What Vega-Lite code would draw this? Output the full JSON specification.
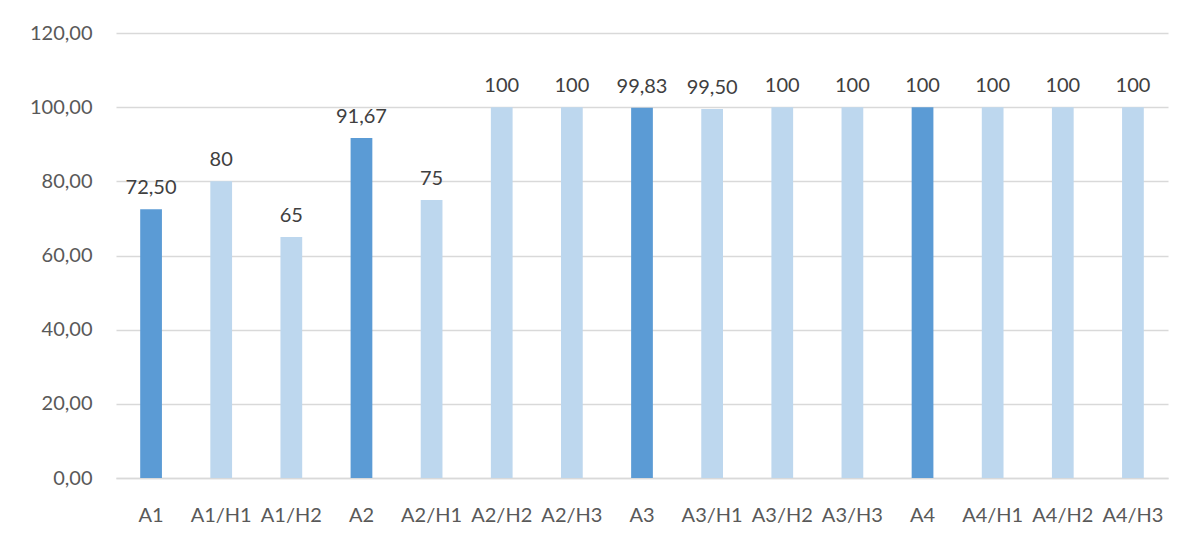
{
  "$schema": "https://vega.github.io/schema/vega-lite/v6.json",
  "width": 1052,
  "height": 445,
  "autosize": {"type": "none"},
  "padding": {"left": 116, "top": 33, "right": 21, "bottom": 65},
  "background": "white",
  "data": {"values": [
    {"cat": "A1", "value": 72.5, "label": "72,50", "kind": "main"},
    {"cat": "A1/H1", "value": 80, "label": "80", "kind": "sub"},
    {"cat": "A1/H2", "value": 65, "label": "65", "kind": "sub"},
    {"cat": "A2", "value": 91.67, "label": "91,67", "kind": "main"},
    {"cat": "A2/H1", "value": 75, "label": "75", "kind": "sub"},
    {"cat": "A2/H2", "value": 100, "label": "100", "kind": "sub"},
    {"cat": "A2/H3", "value": 100, "label": "100", "kind": "sub"},
    {"cat": "A3", "value": 99.83, "label": "99,83", "kind": "main"},
    {"cat": "A3/H1", "value": 99.5, "label": "99,50", "kind": "sub"},
    {"cat": "A3/H2", "value": 100, "label": "100", "kind": "sub"},
    {"cat": "A3/H3", "value": 100, "label": "100", "kind": "sub"},
    {"cat": "A4", "value": 100, "label": "100", "kind": "main"},
    {"cat": "A4/H1", "value": 100, "label": "100", "kind": "sub"},
    {"cat": "A4/H2", "value": 100, "label": "100", "kind": "sub"},
    {"cat": "A4/H3", "value": 100, "label": "100", "kind": "sub"}
  ]},
  "encoding": {
    "x": {
      "field": "cat", "type": "nominal", "sort": null,
      "scale": {"paddingInner": 0.69, "paddingOuter": 0.345},
      "axis": {"title": null, "labelAngle": 0, "ticks": false, "domain": true, "domainColor": "#D9D9D9", "domainWidth": 1.5,
               "labelOverlap": false, "labelBound": false,
               "labelFont": "Lato", "labelFontSize": 20, "labelColor": "#595959", "labelPadding": 27}
    },
    "y": {
      "field": "value", "type": "quantitative",
      "scale": {"domain": [0, 120]},
      "axis": {"title": null, "values": [0, 20, 40, 60, 80, 100, 120], "ticks": false, "domain": false,
               "gridColor": "#D9D9D9", "gridWidth": 1.5, "labelOverlap": false, "labelBound": false,
               "labelExpr": "replace(format(datum.value, '.2f'), '.', ',')",
               "labelFont": "Lato", "labelFontSize": 20, "labelColor": "#595959", "labelPadding": 24}
    }
  },
  "layer": [
    {
      "mark": {"type": "bar"},
      "encoding": {
        "color": {"field": "kind", "type": "nominal", "scale": {"domain": ["main", "sub"], "range": ["#5B9BD5", "#BDD7EE"]}, "legend": null}
      }
    },
    {
      "mark": {"type": "text", "baseline": "alphabetic", "dy": -15, "font": "Lato", "fontSize": 20, "color": "#404040"},
      "encoding": {"text": {"field": "label"}}
    }
  ],
  "config": {"view": {"stroke": null}}
}
